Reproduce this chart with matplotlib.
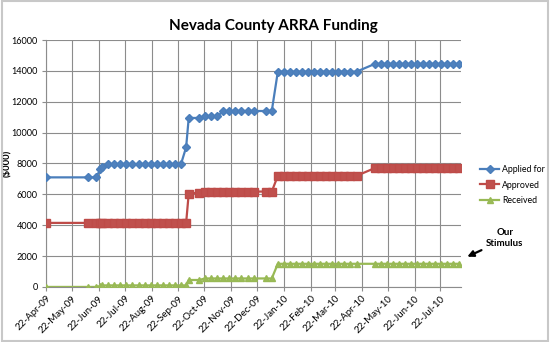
import matplotlib
matplotlib.use("Agg")
import matplotlib.pyplot as plt
import matplotlib.dates as mdates
import matplotlib.patches as patches
import numpy as np
import pandas as pd

plt.rcParams['font.family'] = ['Lato', 'DejaVu Sans']

# report dates (mostly weekly, Fridays)
dates = ["2009-04-22", "2009-06-10", "2009-06-19", "2009-06-24", "2009-06-26",
         "2009-07-03", "2009-07-10", "2009-07-17", "2009-07-24", "2009-07-31",
         "2009-08-07", "2009-08-14", "2009-08-21", "2009-08-28", "2009-09-04",
         "2009-09-11", "2009-09-18", "2009-09-25", "2009-10-01", "2009-10-04",
         "2009-10-16", "2009-10-23", "2009-10-30", "2009-11-06", "2009-11-13",
         "2009-11-20", "2009-11-27", "2009-12-04", "2009-12-11", "2009-12-18",
         "2010-01-01", "2010-01-08", "2010-01-15", "2010-01-22", "2010-01-29",
         "2010-02-05", "2010-02-12", "2010-02-19", "2010-02-26", "2010-03-05",
         "2010-03-12", "2010-03-19", "2010-03-26", "2010-04-02", "2010-04-09",
         "2010-04-16", "2010-05-07", "2010-05-14", "2010-05-21", "2010-05-28",
         "2010-06-04", "2010-06-11", "2010-06-18", "2010-06-25", "2010-07-02",
         "2010-07-09", "2010-07-16", "2010-07-23", "2010-07-30", "2010-08-06",
         "2010-08-13"]

applied = [7100, 7100, 7100, 7650, 7800,
           7950, 7950, 7950, 7950, 7950,
           7950, 7950, 7950, 7950, 7950,
           7950, 7950, 7950, 9050, 10950,
           10950, 11050, 11050, 11050, 11400,
           11400, 11400, 11400, 11400, 11400,
           11400, 11400, 13950, 13950, 13950,
           13950, 13950, 13950, 13950, 13950,
           13950, 13950, 13950, 13950, 13950,
           13950, 14450, 14450, 14450, 14450,
           14450, 14450, 14450, 14450, 14450,
           14450, 14450, 14450, 14450, 14450,
           14450]

approved = [4150, 4150, 4150, 4150, 4150,
            4150, 4150, 4150, 4150, 4150,
            4150, 4150, 4150, 4150, 4150,
            4150, 4150, 4150, 4150, 6050,
            6100, 6180, 6180, 6180, 6180,
            6180, 6180, 6180, 6180, 6180,
            6180, 6180, 7200, 7200, 7200,
            7200, 7200, 7200, 7200, 7200,
            7200, 7200, 7200, 7200, 7200,
            7200, 7700, 7700, 7700, 7700,
            7700, 7700, 7700, 7700, 7700,
            7700, 7700, 7700, 7700, 7700,
            7700]

received = [0, 0, 0, 60, 100,
            100, 100, 100, 100, 100,
            100, 100, 100, 100, 100,
            100, 100, 100, 100, 450,
            450, 550, 550, 550, 550,
            550, 550, 550, 550, 550,
            550, 550, 1500, 1500, 1500,
            1500, 1500, 1500, 1500, 1500,
            1500, 1500, 1500, 1500, 1500,
            1500, 1500, 1500, 1500, 1500,
            1500, 1500, 1500, 1500, 1500,
            1500, 1500, 1500, 1500, 1500,
            1500]

x = pd.to_datetime(dates)

fig = plt.figure(figsize=(5.5, 3.42), dpi=100)
ax = fig.add_axes([0.0836, 0.161, 0.755, 0.722])

ax.plot(x, applied, color='#4A7EBB', lw=1.6, marker='D', markersize=3.6,
        markerfacecolor='#4F81BD', markeredgecolor='#4A7EBB', label='Applied for', zorder=3)
ax.plot(x, approved, color='#BE4B48', lw=1.6, marker='s', markersize=5.2,
        markerfacecolor='#C0504D', markeredgecolor='#BE4B48', label='Approved', zorder=3)
ax.plot(x, received, color='#98B954', lw=1.6, marker='^', markersize=5,
        markerfacecolor='#9BBB59', markeredgecolor='#98B954', label='Received', zorder=3)

ax.set_xlim(pd.Timestamp("2009-04-22"), pd.Timestamp("2010-08-15"))
ax.set_ylim(0, 16000)
ax.set_yticks(np.arange(0, 16001, 2000))
ax.xaxis.set_major_locator(mdates.MonthLocator(bymonthday=22))
ax.xaxis.set_major_formatter(mdates.DateFormatter('%d-%b-%y'))
for lab in ax.get_xticklabels():
    lab.set_rotation(45)
    lab.set_ha('right')
    lab.set_rotation_mode('anchor')

ax.grid(True, color='#8c8c8c', lw=0.8)
ax.set_axisbelow(True)
ax.tick_params(labelsize=7, length=3, color='#8c8c8c', pad=2)
ax.tick_params(axis='y', labelsize=6.6, pad=3)
for s in ['top', 'right']:
    ax.spines[s].set_visible(False)
for s in ['left', 'bottom']:
    ax.spines[s].set_color('#8c8c8c')

ax.set_ylabel('($000)', fontsize=6.8, fontweight='bold')
ax.yaxis.set_label_coords(-0.083, 0.5)
fig.text(0.497, 0.925, 'Nevada County ARRA Funding', ha='center', va='center',
         fontsize=11, fontweight='bold')

fig.legend(loc='center left', bbox_to_anchor=(0.865, 0.459), frameon=False,
           fontsize=6.3, borderpad=0, handlelength=2.2, handletextpad=0.3,
           labelspacing=0.75, numpoints=1)

fig.text(0.918, 0.304, 'Our\nStimulus', ha='center', va='center', fontsize=7,
         fontweight='bold', linespacing=1.3)
ax.annotate('', xy=(0.845, 0.246), xytext=(0.88, 0.272),
            xycoords='figure fraction', textcoords='figure fraction',
            arrowprops=dict(arrowstyle='-|>', color='black', lw=1.6,
                            mutation_scale=9))

fig.patches.append(patches.Rectangle((0.003, 0.004), 0.994, 0.992,
                                     transform=fig.transFigure, fill=False,
                                     edgecolor='#c8c8c8', lw=1.5))

fig.savefig('out.png', dpi=100)
